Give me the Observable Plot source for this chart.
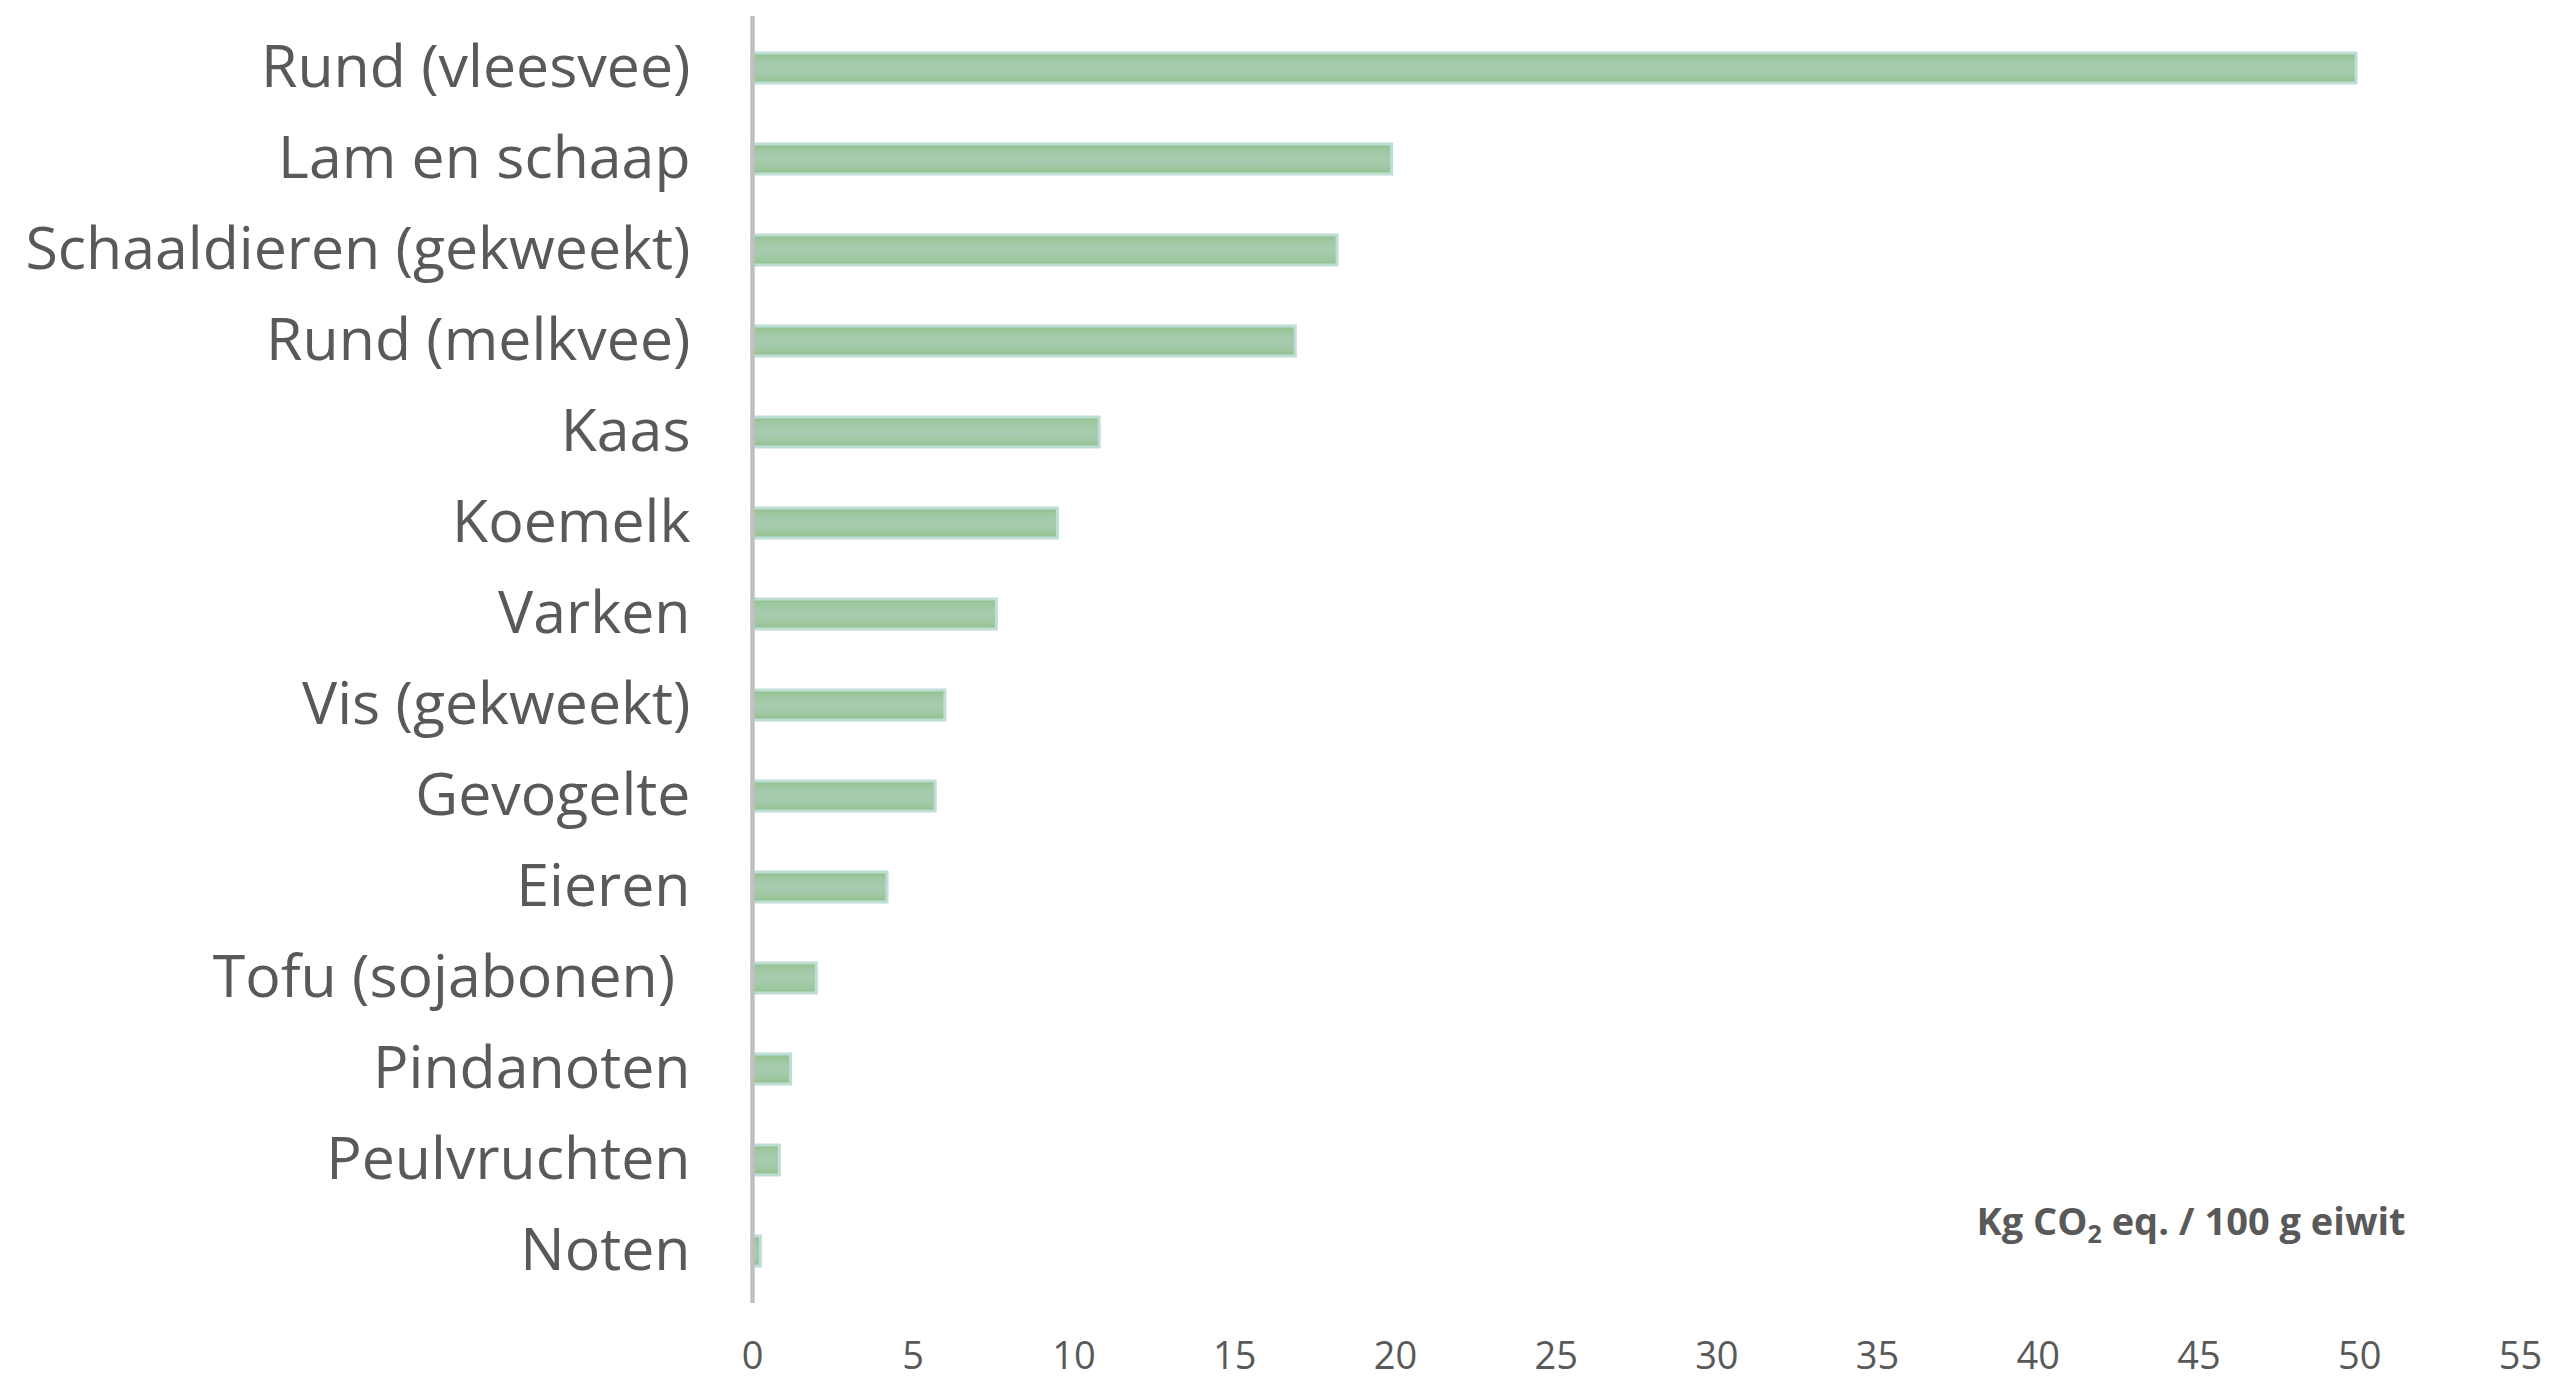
<!DOCTYPE html>
<html>
<head>
<meta charset="utf-8">
<script src="https://cdn.jsdelivr.net/npm/d3@7"></script>
<script src="https://cdn.jsdelivr.net/npm/@observablehq/plot@0.6"></script>
<style>
  html, body { margin: 0; padding: 0; background: #ffffff; }
  #chart svg { display: block; }
</style>
</head>
<body>
<div id="chart"></div>
<script>
const categories = [
  "Rund (vleesvee)", "Lam en schaap", "Schaaldieren (gekweekt)", "Rund (melkvee)",
  "Kaas", "Koemelk", "Varken", "Vis (gekweekt)", "Gevogelte", "Eieren",
  "Tofu (sojabonen)\u00a0", "Pindanoten", "Peulvruchten", "Noten"
];
const values = [49.9, 19.9, 18.2, 16.9, 10.8, 9.5, 7.6, 6.0, 5.7, 4.2, 2.0, 1.2, 0.85, 0.26];
const xTicks = [0, 5, 10, 15, 20, 25, 30, 35, 40, 45, 50, 55];
const unitLabel = "Kg CO2 eq. / 100 g eiwit";

const data = categories.map((name, i) => ({ name, value: values[i] }));

const chart = Plot.plot({
  width: 2553,
  height: 1381,
  marginLeft: 752,
  marginRight: 33,
  marginTop: 16,
  marginBottom: 78,
  style: { fontFamily: "'Open Sans', sans-serif", color: "#595959", background: "#ffffff" },
  x: { domain: [0, 55], ticks: xTicks, label: null },
  y: { domain: categories, paddingInner: 0.675, paddingOuter: 0.3375, label: null },
  marks: [
    Plot.axisY({ tickSize: 0, tickPadding: 62, fontSize: 59, label: null, fill: "#595959" }),
    Plot.axisX({ ticks: xTicks, tickSize: 0, tickPadding: 39, fontSize: 38, label: null, fill: "#595959" }),
    Plot.barX(data, { x: "value", y: "name", fill: "url(#barGrad)", stroke: "#bcded4", strokeWidth: 3 }),
    Plot.ruleX([0], { stroke: "#c0c0c0", strokeWidth: 4.5 }),
    Plot.text([unitLabel], { frameAnchor: "bottom-right", dx: -115, dy: -69, fontSize: 38, fontWeight: "bold", fill: "#595959", textAnchor: "end" })
  ]
});

const svg = d3.select(chart);
const defs = svg.insert("defs", ":first-child");
const g = defs.append("linearGradient").attr("id", "barGrad").attr("x1", 0).attr("y1", 0).attr("x2", 0).attr("y2", 1);
[["0%", "#8fc08b"], ["22%", "#a0c8a3"], ["50%", "#a7cbb0"], ["78%", "#a0c8a3"], ["100%", "#8fc08b"]]
  .forEach(([o, c]) => g.append("stop").attr("offset", o).attr("stop-color", c));

svg.selectAll("text").each(function () {
  if (this.textContent === unitLabel) {
    const t = d3.select(this);
    t.text(null);
    t.append("tspan").text("Kg CO");
    t.append("tspan").attr("font-size", 25).attr("dy", 8).text("2");
    t.append("tspan").attr("dy", -8).text(" eq. / 100 g eiwit");
  }
});

document.getElementById("chart").appendChild(chart);
</script>
</body>
</html>
